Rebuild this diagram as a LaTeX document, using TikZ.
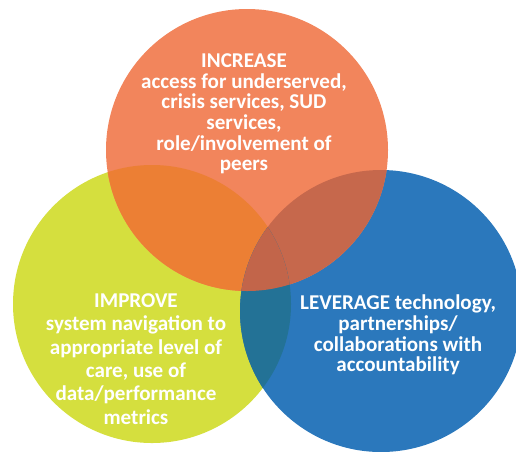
\documentclass[tikz,border=0pt]{standalone}
\usepackage{fontspec}
\setmainfont{Carlito}
\definecolor{incorange}{HTML}{F2855C}
\definecolor{impgreen}{HTML}{D5DF3E}
\definecolor{levblue}{HTML}{2B78BC}
\definecolor{incimp}{HTML}{EC7F34}
\definecolor{inclev}{HTML}{C6684C}
\definecolor{implev}{HTML}{237296}
\definecolor{allthree}{HTML}{C2654A}
\begin{document}
\begin{tikzpicture}[x=0.75pt,y=-0.75pt,
    circtext/.style={text=white,font=\bfseries\fontsize{15.8}{15.5}\selectfont,align=center,inner sep=0pt}]
    \useasboundingbox (0,0) rectangle (516,451);
    \coordinate (inc) at (247,150);
    \coordinate (imp) at (152,304);
    \coordinate (lev) at (381,311);

    % Circles
    \fill[impgreen] (imp) circle (139);
    \fill[levblue] (lev) circle (141);
    \fill[incorange] (inc) circle (141);

    % Overlaps
    \begin{scope}
        \clip (inc) circle (141);
        \fill[incimp] (imp) circle (139);
        \fill[inclev] (lev) circle (141);
    \end{scope}
    \begin{scope}
        \clip (imp) circle (139);
        \fill[implev] (lev) circle (141);
        \clip (inc) circle (141);
        \fill[allthree] (lev) circle (141);
    \end{scope}

    % Labels
    \node[circtext] (inctext) at (244,114) {INCREASE\\access for underserved,\\crisis services, SUD\\services,\\role/involvement of\\peers};
    \node[circtext,font=\bfseries\fontsize{15.8}{17.5}\selectfont] (imptext) at (136,359) {IMPROVE\\system navigation to\\appropriate level of\\care, use of\\data/performance\\metrics};
    \node[circtext] (levtext) at (398,335) {LEVERAGE technology,\\partnerships/\\collaborations with\\accountability};
\end{tikzpicture}
\end{document}
